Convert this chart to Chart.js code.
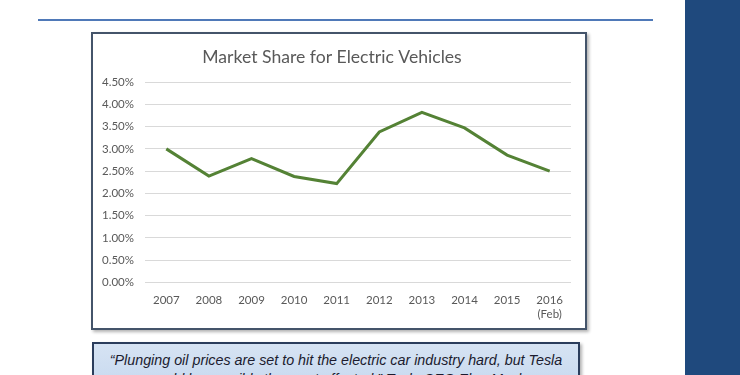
<!DOCTYPE html>
<html>
<head>
<meta charset="utf-8">
<script src="https://cdn.jsdelivr.net/npm/chart.js@4/dist/chart.umd.min.js"></script>
<style>
  body { margin: 0; width: 740px; height: 375px; background: #fff; overflow: hidden; position: relative; font-family: Lato, sans-serif; }
  #topline { position: absolute; left: 38px; top: 19px; width: 615px; height: 2px; background: #4f79b8; }
  #sidebar { position: absolute; left: 685px; top: 0; width: 55px; height: 375px; background: #1f497d; }
  #chartbox { position: absolute; left: 91px; top: 32px; width: 492px; height: 294px; border: 2px solid #44546a; background: #fff; box-shadow: 2px 2px 3px rgba(0,0,0,0.3); }
  #quote { position: absolute; left: 92px; top: 342px; width: 488px; height: 60px; border: 2px solid #2b3d5c; background: linear-gradient(#d6e3f3, #c3d6ee); box-shadow: 2px 2px 3px rgba(0,0,0,0.3);
           font-family: "Liberation Sans", Arial, sans-serif; font-style: italic; font-size: 14.3px; color: #1b1b2e; text-align: center; line-height: 19px; padding-top: 7px; box-sizing: border-box; }
</style>
</head>
<body>
<div id="topline"></div>
<div id="sidebar"></div>
<div id="chartbox"><canvas id="forecastchart" width="492" height="294"></canvas></div>
<div id="quote">“Plunging oil prices are set to hit the electric car industry hard, but Tesla<br>would be possibly the most affected,” Tesla CEO Elon Musk</div>
<script>
// market share, percent
let years = ["2007", "2008", "2009", "2010", "2011", "2012", "2013", "2014", "2015", ["2016", "(Feb)"]];
let share = [3.00, 2.39, 2.78, 2.38, 2.22, 3.38, 3.82, 3.47, 2.86, 2.50];
let yTicks = [0, 0.5, 1, 1.5, 2, 2.5, 3, 3.5, 4, 4.5];

function renderChart(){
    let options = {
        responsive: false,
        animation: false,
        layout: { padding: { left: 0, right: 14, top: 5, bottom: 4 } },
        plugins: {
            legend: { display: false },
            tooltip: { enabled: false },
            title: {
                display: true,
                text: "Market Share for Electric Vehicles",
                color: '#595959',
                font: { family: 'Lato', size: 17.6, weight: 'normal' },
                padding: { top: 8, bottom: 14 }
            }
        },
        scales: {
            x: {
                offset: true,
                grid: { display: false },
                border: { display: false },
                ticks: { color: '#595959', font: { family: 'Lato', size: 11.5 }, padding: 3, maxRotation: 0 }
            },
            y: {
                min: 0,
                max: 4.5,
                afterBuildTicks: axis => { axis.ticks = yTicks.map(v => ({ value: v })); },
                afterFit: axis => { axis.width = 52; },
                grid: { color: '#d9d9d9', lineWidth: 1, drawTicks: false },
                border: { display: false },
                ticks: { color: '#595959', font: { family: 'Lato', size: 11.5 }, padding: 11,
                         callback: v => v.toFixed(2) + '%' }
            }
        }
    };
    let chart_options = {
        type: 'line',
        data: {
            labels: years,
            datasets: [{
                label: "Market share",
                borderColor: '#548235',
                backgroundColor: '#548235',
                borderWidth: 3,
                pointRadius: 0,
                tension: 0,
                data: share
            }]
        },
        options: options
    };
    var element = document.getElementById("forecastchart");
    var chart = new Chart(element, chart_options);
}
renderChart();
</script>
</body>
</html>
